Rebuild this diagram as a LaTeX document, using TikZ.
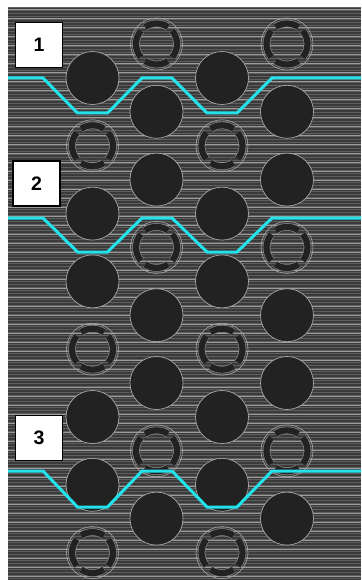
\documentclass[tikz,border=0pt]{standalone}
\usepackage{fontspec}
\setsansfont{Liberation Sans}
\usetikzlibrary{positioning,calc}
\definecolor{stripedark}{HTML}{3A3A3A}
\definecolor{stripemid}{HTML}{5E5E5E}
\definecolor{stripelight}{HTML}{9C9C9C}
\definecolor{holefill}{HTML}{222222}
\definecolor{rimgrey}{HTML}{A8A8A8}
\definecolor{cutcyan}{HTML}{22E3EC}
\tikzset{
  % gropar
  hole/.style={circle,fill=holefill,draw=rimgrey,line width=0.7pt,inner sep=0pt,
               minimum size=53pt},
  plug/.style={circle,draw=rimgrey,line width=0.6pt,inner sep=0pt,minimum size=52pt,
    path picture={
      \foreach \a/\s in {90/34,270/34,0/40,180/40}{
        \draw[line width=7.6pt,draw=rimgrey!80!black]
          (path picture bounding box.center) ++(\a-\s:20.5pt)
          arc[start angle=\a-\s,end angle=\a+\s,radius=20.5pt];
        \draw[line width=6.2pt,draw=holefill]
          (path picture bounding box.center) ++(\a-\s:20.5pt)
          arc[start angle=\a-\s,end angle=\a+\s,radius=20.5pt];
      }}},
  % snitt
  cut/.style={draw=cutcyan,line width=3pt,line join=miter},
  tag/.style={draw=black,fill=white,line width=1.5pt,minimum width=47pt,
              minimum height=45pt,inner sep=0pt,
              font=\sffamily\bfseries\fontsize{19.5}{20}\selectfont},
}
\begin{document}
\begin{tikzpicture}[x=1pt,y=-1pt]
\useasboundingbox (0,0) rectangle (361,580);
  % bakgrund
  \fill[stripedark] (8,7) rectangle (361,580);
  \foreach \y in {8,11,...,578}
    \draw[stripemid,line width=1pt] (8,\y) -- (361,\y);
  \foreach \y in {9,18,...,578}
    \draw[stripelight,line width=0.8pt] (8,\y) -- (361,\y);
  % hål och proppar
  \foreach \c/\x/\y/\s in {a/92.5/78/0,b/156.5/44/1,c/222/78/0,d/287/44/1}{
    \foreach \k in {0,...,7}{
      \pgfmathtruncatemacro\t{mod(\k+\s,3)}
      \ifnum\t=1
        \node[plug] (\c\k) at (\x,\y+67.8*\k) {};
      \else
        \node[hole] (\c\k) at (\x,\y+67.8*\k) {};
      \fi
    }
  }
  % snittlinjer
  \foreach \t/\b in {78/113,218/252,471/507}
    \draw[cut] (8,\t) -- (43,\t) -- (77.5,\b) -- (107.5,\b) -- (142,\t)
      -- (172,\t) -- (207,\b) -- (237,\b) -- (272,\t) -- (361,\t);
  \node[tag] (lab1) at (39,45) {1};
  \node[tag] (lab2) at (36.5,183.5) {2};
  \node[tag] (lab3) at (39,438) {3};
\end{tikzpicture}
\end{document}
